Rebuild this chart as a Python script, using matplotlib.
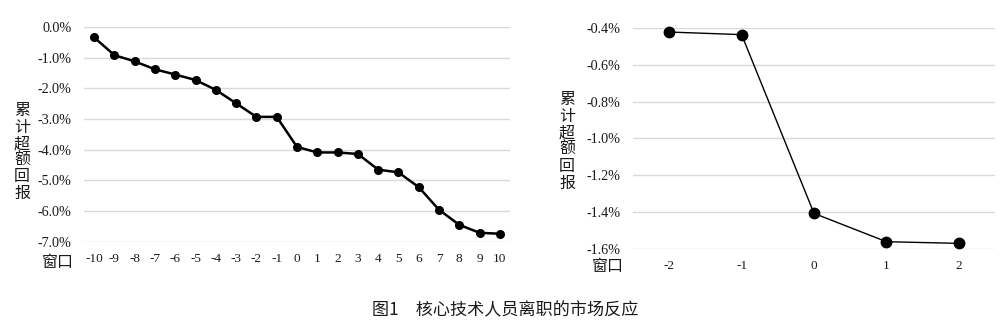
import matplotlib
matplotlib.use("Agg")
import matplotlib.pyplot as plt
import numpy as np

# data
left_x = list(range(-10, 11))
left_car = [-0.34, -0.92, -1.12, -1.38, -1.55, -1.73, -2.05, -2.49, -2.93, -2.93,
            -3.91, -4.09, -4.09, -4.14, -4.65, -4.74, -5.22, -5.96, -6.45, -6.71, -6.74]
left_yticks = [0, -1, -2, -3, -4, -5, -6, -7]

right_x = [-2, -1, 0, 1, 2]
right_car = [-0.422, -0.436, -1.408, -1.562, -1.571]
right_yticks = [-0.4, -0.6, -0.8, -1.0, -1.2, -1.4, -1.6]

ylabel = "累计超额回报"
xlabel = "窗口"
caption = "图1　核心技术人员离职的市场反应"

W, H = 1004, 327
fig = plt.figure(figsize=(W / 100, H / 100), dpi=100)
fig.patch.set_facecolor("white")

serif = ["Liberation Serif", "DejaVu Serif"]
cjk = ["Noto Sans CJK SC", "DejaVu Sans"]
grid_c = "#d9d9d9"
txt_c = "#1a1a1a"


def px_axes(x0, x1, ytop, ybot):
    return fig.add_axes([x0 / W, 1 - ybot / H, (x1 - x0) / W, (ybot - ytop) / H])


def style(ax, xs, yticks, fmt, ylim):
    n = len(xs)
    ax.set_xlim(-0.5, n - 0.5)
    ax.set_ylim(*ylim)
    ax.set_xticks(range(n))
    ax.set_xticklabels([str(v) for v in xs], fontfamily=serif, fontsize=9.5)
    ax.set_yticks(yticks)
    ax.set_yticklabels([fmt.format(v) for v in yticks], fontfamily=serif, fontsize=10.2)
    ax.tick_params(axis="both", length=0, colors=txt_c)
    ax.tick_params(axis="y", pad=9)
    ax.tick_params(axis="x", pad=8)
    for s in ax.spines.values():
        s.set_visible(False)
    ax.yaxis.grid(True, color=grid_c, linewidth=1.0)
    ax.set_axisbelow(True)
    ax.set_facecolor("none")


# left chart
axL = px_axes(84, 510, 27, 241.7)
axL.plot(range(len(left_x)), left_car, color="black", linewidth=1.8,
         marker="o", markersize=5.5, clip_on=False, zorder=3)
style(axL, left_x, left_yticks, "{:.1f}%", (-7, 0))

# right chart
axR = px_axes(633, 995, 28, 248.7)
axR.plot(range(len(right_x)), right_car, color="black", linewidth=1.0,
         marker="o", markersize=7.5, clip_on=False, zorder=3)
style(axR, right_x, right_yticks, "{:.1f}%", (-1.6, -0.4))

# vertical y labels
fig.text(22 / W, 1 - 152 / H, "\n".join(ylabel), fontfamily=cjk, fontsize=11.5,
         ha="center", va="center", linespacing=0.97, color=txt_c)
fig.text(567 / W, 1 - 141.5 / H, "\n".join(ylabel), fontfamily=cjk, fontsize=11.5,
         ha="center", va="center", linespacing=0.97, color=txt_c)

# x labels
fig.text(58 / W, 1 - 263 / H, xlabel, fontfamily=cjk, fontsize=11.5,
         ha="center", va="center", color=txt_c)
fig.text(607.5 / W, 1 - 267 / H, xlabel, fontfamily=cjk, fontsize=11.5,
         ha="center", va="center", color=txt_c)

# caption
fig.text(505.5 / W, 1 - 310.5 / H, caption, fontfamily=cjk, fontsize=12.3,
         ha="center", va="center", color=txt_c)

fig.savefig("out.png", dpi=100, facecolor="white")
